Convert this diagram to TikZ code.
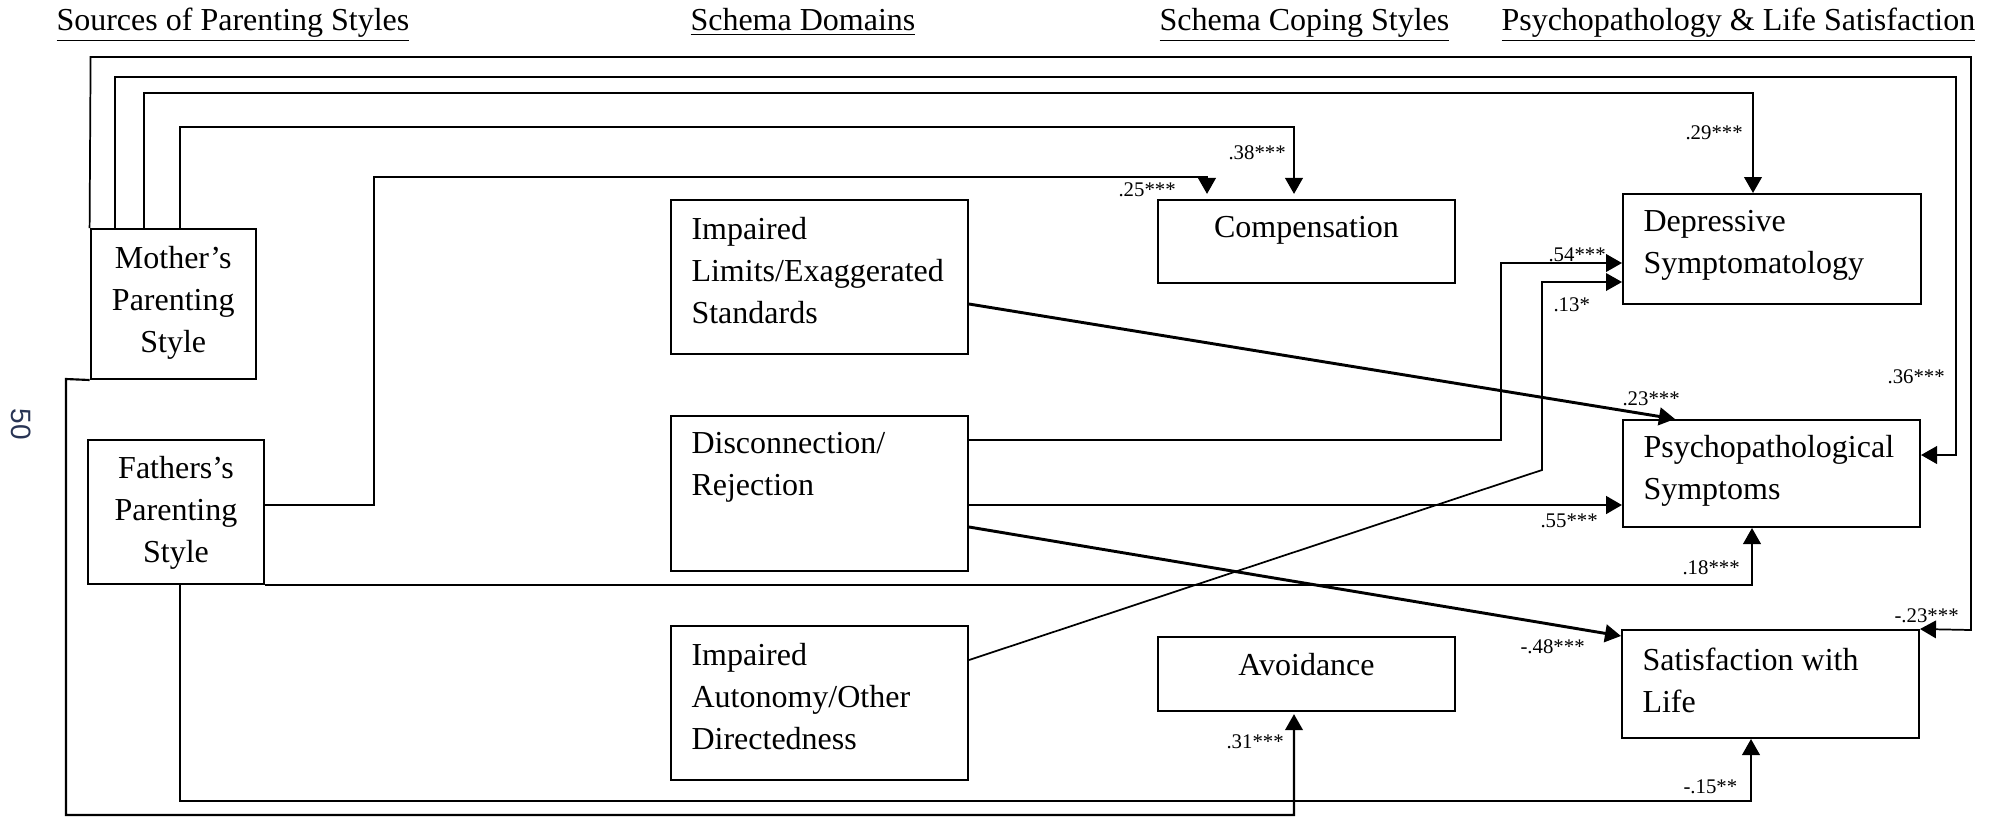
\documentclass[tikz,border=0pt]{standalone}
\usepackage{fontspec}
\setmainfont{Liberation Serif}
\newfontfamily\pagefont{Liberation Sans}
\usetikzlibrary{arrows.meta, fit}

\definecolor{pgcol}{RGB}{40,52,84}

\tikzset{
    box/.style={draw, inner sep=0pt, line width=0.75pt},
    boxtext/.style={inner sep=0pt, font=\fontsize{12pt}{15.75pt}\selectfont},
    heading/.style={inner sep=0pt, anchor=base west, font=\fontsize{12pt}{15pt}\selectfont},
    coef/.style={inner sep=0pt, anchor=base west, font=\fontsize{7.8pt}{9pt}\selectfont},
    link/.style={line width=0.8pt, -{Triangle[length=6pt, width=6.6pt]}},
    heavy/.style={link, line width=1.1pt},
    light/.style={link, line width=0.65pt},
}

\begin{document}
\begin{tikzpicture}[x=0.375pt, y=-0.375pt]
    \useasboundingbox (0,0) rectangle (1997,819);

    % column headings
    \node[heading] (hsrc) at (56,30) {\underline{Sources of Parenting Styles}};
    \node[heading] (hdom) at (690,30) {\underline{Schema Domains}};
    \node[heading] (hcop) at (1159,30) {\underline{Schema Coping Styles}};
    \node[heading] (hout) at (1501,30) {\underline{Psychopathology \& Life Satisfaction}};

    \node[rotate=-90, inner sep=0pt, text=pgcol, font=\pagefont\fontsize{10.5pt}{13pt}\selectfont] (pgno) at (21,424) {50};

    % boxes
    \node[box, fit={(90.6,229) (256,379)}] (mom) {};
    \node[box, fit={(88,440) (264,584)}] (dad) {};
    \node[box, fit={(671,200) (968,354)}] (lim) {};
    \node[box, fit={(671,416) (968,571)}] (dis) {};
    \node[box, fit={(671,626) (968,780)}] (aut) {};
    \node[box, fit={(1158,200) (1455,283)}] (comp) {};
    \node[box, fit={(1158,637) (1455,711)}] (avoid) {};
    \node[box, fit={(1623,194) (1921,304)}] (dep) {};
    \node[box, fit={(1623,420) (1920,527)}] (psy) {};
    \node[box, fit={(1622,630) (1919,738)}] (sat) {};

    % box texts
    \node[boxtext, align=center, anchor=north] (momt) at ([shift={(0,18)}]mom.north) {Mother’s\\Parenting\\Style};
    \node[boxtext, align=center, anchor=north] (dadt) at ([shift={(0,17)}]dad.north) {Fathers’s\\Parenting\\Style};
    \node[boxtext, align=left, anchor=north west] (limt) at ([shift={(21,18)}]lim.north west) {Impaired\\Limits/Exaggerated\\Standards};
    \node[boxtext, align=left, anchor=north west] (dist) at ([shift={(21,17)}]dis.north west) {Disconnection/\\Rejection};
    \node[boxtext, align=left, anchor=north west] (autt) at ([shift={(21,18)}]aut.north west) {Impaired\\Autonomy/Other\\Directedness};
    \node[boxtext, anchor=north] (compt) at ([shift={(0,17)}]comp.north) {Compensation};
    \node[boxtext, anchor=north] (avoidt) at ([shift={(0,17)}]avoid.north) {Avoidance};
    \node[boxtext, align=left, anchor=north west] (dept) at ([shift={(21,17)}]dep.north west) {Depressive\\Symptomatology};
    \node[boxtext, align=left, anchor=north west] (psyt) at ([shift={(21,16)}]psy.north west) {Psychopathological\\Symptoms};
    \node[boxtext, align=left, anchor=north west] (satt) at ([shift={(21,18)}]sat.north west) {Satisfaction with\\Life};

    % mother's paths
    \draw[light] (mom.north west) -- (90.6,57) -| (1971,630) -- (sat.north east);
    \draw[link] (115,0 |- mom.north) -- (115,77) -| (1956,455) -- (psy.east |- 0,455);
    \draw[link] (144,0 |- mom.north) -- (144,93) -| (dep.north -| 1753,0);
    \draw[link, shorten >=1.9pt] (180,0 |- mom.north) -- (180,127) -| (comp.north -| 1294,0);
    \draw[link, shorten >=0.8pt] (mom.south west) -- (66,379) -- (66,815) -| (avoid.south -| 1294,0);

    % father's paths
    \draw[link, shorten >=1.9pt] (dad.east |- 0,505) -- (374,505) -- (374,177) -| (comp.north -| 1207,0);
    \draw[link] (dad.south east) -| (psy.south -| 1752,0);
    \draw[link] (dad.south -| 180,0) -- (180,801) -| (sat.south -| 1751,0);

    % schema domain paths
    \draw[heavy] (lim.east |- 0,304) -- (psy.north -| 1675,0);
    \draw[link] (dis.east |- 0,440) -| (1501,263) -- (dep.west |- 0,263);
    \draw[heavy] (dis.east |- 0,505) -- (psy.west |- 0,505);
    \draw[heavy] (dis.east |- 0,527) -- (sat.west |- 0,636);
    \draw[light] (aut.east |- 0,660) -- (1542,470) -- (1542,282) -- (dep.west |- 0,282);

    % coefficients
    \node[coef] (c38) at (1228,159) {.38***};
    \node[coef] (c25) at (1118,196) {.25***};
    \node[coef] (c29) at (1685,139) {.29***};
    \node[coef] (c54) at (1548,261) {.54***};
    \node[coef] (c13) at (1553,311) {.13*};
    \node[coef] (c36) at (1887,383) {.36***};
    \node[coef] (c23) at (1622,405) {.23***};
    \node[coef] (c55) at (1540,527) {.55***};
    \node[coef] (c18) at (1682,574) {.18***};
    \node[coef] (c48) at (1520,653) {-.48***};
    \node[coef] (cm23) at (1894,622) {-.23***};
    \node[coef] (c31) at (1226,748) {.31***};
    \node[coef] (c15) at (1683,793) {-.15**};
\end{tikzpicture}
\end{document}
